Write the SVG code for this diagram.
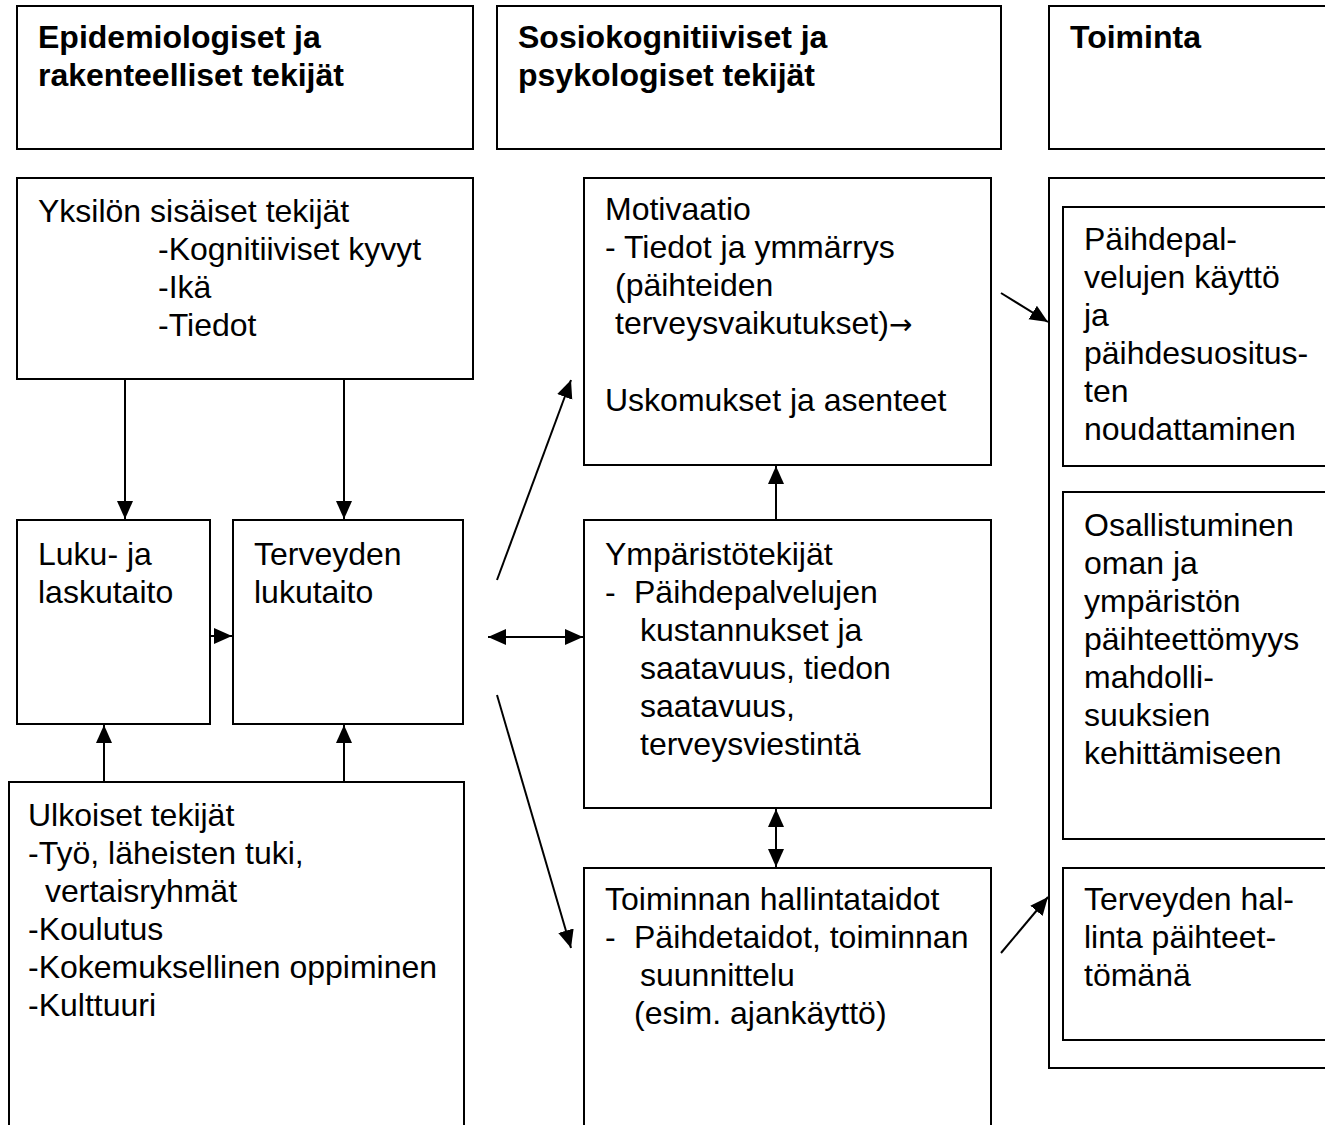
<svg xmlns="http://www.w3.org/2000/svg" width="1325" height="1125" viewBox="0 0 1325 1125">
<style>
rect{fill:#fff;stroke:#000;stroke-width:2}
text{font-family:"Liberation Sans",Arial,sans-serif;font-size:32px;fill:#000}
.h{font-weight:bold}
.c{stroke:#000;stroke-width:2;fill:none}
.arr{font-family:"DejaVu Sans",sans-serif;font-size:28px}
</style>
<defs>
<marker id="ah" markerUnits="userSpaceOnUse" markerWidth="20" markerHeight="18" refX="18" refY="8" orient="auto-start-reverse" viewBox="0 0 20 18">
<path d="M0,0 L18,8 L0,16 z" fill="#000"/>
</marker>
</defs>
<rect width="1325" height="1125" style="stroke:none"/>
<g id="header1"><rect x="17" y="6" width="456" height="143"/><text class="h" x="38" y="48">Epidemiologiset ja</text><text class="h" x="38" y="86">rakenteelliset tekijät</text></g>
<g id="header2"><rect x="497" y="6" width="504" height="143"/><text class="h" x="518" y="48">Sosiokognitiiviset ja</text><text class="h" x="518" y="86">psykologiset tekijät</text></g>
<g id="header3"><rect x="1049" y="6" width="300" height="143"/><text class="h" x="1070" y="48">Toiminta</text></g>
<g id="yksilon"><rect x="17" y="178" width="456" height="201"/>
<text x="38" y="222">Yksilön sisäiset tekijät</text>
<text x="158" y="260">-Kognitiiviset kyvyt</text>
<text x="158" y="298">-Ikä</text>
<text x="158" y="336">-Tiedot</text></g>
<g id="luku"><rect x="17" y="520" width="193" height="204"/><text x="38" y="565">Luku- ja</text><text x="38" y="603">laskutaito</text></g>
<g id="terveyden"><rect x="233" y="520" width="230" height="204"/><text x="254" y="565">Terveyden</text><text x="254" y="603">lukutaito</text></g>
<g id="ulkoiset"><rect x="9" y="782" width="455" height="360"/>
<text x="28" y="826">Ulkoiset tekijät</text>
<text x="28" y="864">-Työ, läheisten tuki,</text>
<text x="45" y="902">vertaisryhmät</text>
<text x="28" y="940">-Koulutus</text>
<text x="28" y="978">-Kokemuksellinen oppiminen</text>
<text x="28" y="1016">-Kulttuuri</text></g>
<g id="motivaatio"><rect x="584" y="178" width="407" height="287"/>
<text x="605" y="220">Motivaatio</text>
<text x="605" y="258">- Tiedot ja ymmärrys</text>
<text x="615" y="296">(päihteiden</text>
<text x="615" y="334">terveysvaikutukset)<tspan class="arr">→</tspan></text>
<text x="605" y="411">Uskomukset ja asenteet</text></g>
<g id="ymparisto"><rect x="584" y="520" width="407" height="288"/>
<text x="605" y="565">Ympäristötekijät</text>
<text x="605" y="603">-</text><text x="634" y="603">Päihdepalvelujen</text>
<text x="640" y="641">kustannukset ja</text>
<text x="640" y="679">saatavuus, tiedon</text>
<text x="640" y="717">saatavuus,</text>
<text x="640" y="755">terveysviestintä</text></g>
<g id="toiminnan"><rect x="584" y="868" width="407" height="280"/>
<text x="605" y="910">Toiminnan hallintataidot</text>
<text x="605" y="948">-</text><text x="634" y="948">Päihdetaidot, toiminnan</text>
<text x="640" y="986">suunnittelu</text>
<text x="634" y="1024">(esim. ajankäyttö)</text></g>
<g id="toiminta-container"><rect x="1049" y="178" width="300" height="890"/></g>
<g id="kaytto"><rect x="1063" y="207" width="290" height="259"/>
<text x="1084" y="250">Päihdepal-</text>
<text x="1084" y="288">velujen käyttö</text>
<text x="1084" y="326">ja</text>
<text x="1084" y="364">päihdesuositus-</text>
<text x="1084" y="402">ten</text>
<text x="1084" y="440">noudattaminen</text></g>
<g id="osallistuminen"><rect x="1063" y="492" width="290" height="347"/>
<text x="1084" y="536">Osallistuminen</text>
<text x="1084" y="574">oman ja</text>
<text x="1084" y="612">ympäristön</text>
<text x="1084" y="650">päihteettömyys</text>
<text x="1084" y="688">mahdolli-</text>
<text x="1084" y="726">suuksien</text>
<text x="1084" y="764">kehittämiseen</text></g>
<g id="hallinta"><rect x="1063" y="868" width="290" height="172"/>
<text x="1084" y="910">Terveyden hal-</text>
<text x="1084" y="948">linta päihteet-</text>
<text x="1084" y="986">tömänä</text></g>
<g id="connectors">
<line class="c" x1="125" y1="379" x2="125" y2="519" marker-end="url(#ah)"/>
<line class="c" x1="344" y1="379" x2="344" y2="519" marker-end="url(#ah)"/>
<line class="c" x1="104" y1="782" x2="104" y2="725" marker-end="url(#ah)"/>
<line class="c" x1="344" y1="782" x2="344" y2="725" marker-end="url(#ah)"/>
<line class="c" x1="210" y1="636" x2="232" y2="636" marker-end="url(#ah)"/>
<line class="c" x1="497" y1="580" x2="571" y2="380" marker-end="url(#ah)"/>
<line class="c" x1="488" y1="637" x2="583" y2="637" marker-start="url(#ah)" marker-end="url(#ah)"/>
<line class="c" x1="497" y1="695" x2="571" y2="948" marker-end="url(#ah)"/>
<line class="c" x1="776" y1="520" x2="776" y2="466" marker-end="url(#ah)"/>
<line class="c" x1="776" y1="809" x2="776" y2="867" marker-start="url(#ah)" marker-end="url(#ah)"/>
<line class="c" x1="1001" y1="293" x2="1048" y2="322" marker-end="url(#ah)"/>
<line class="c" x1="1001" y1="953" x2="1048" y2="897" marker-end="url(#ah)"/>
</g>
</svg>
